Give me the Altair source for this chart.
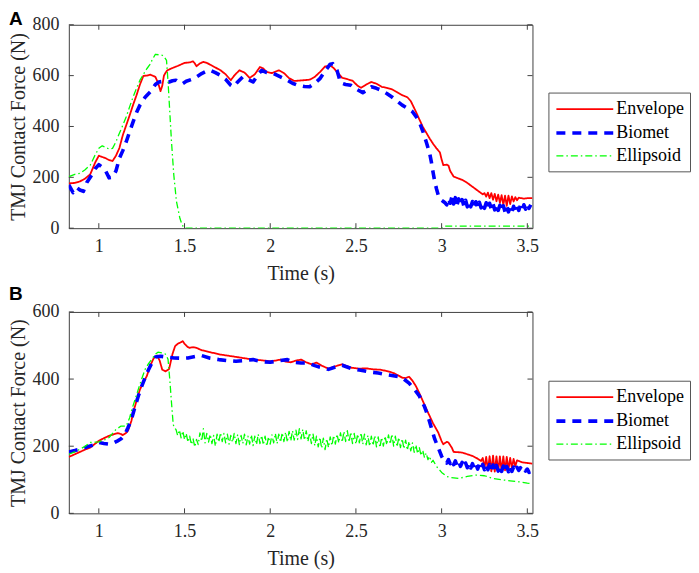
import altair as alt
import pandas as pd

SERIES = ["Envelope", "Biomet", "Ellipsoid"]
COLORS = ["#ff0000", "#0000ff", "#00ff00"]
X_TICKS = [1, 1.5, 2, 2.5, 3, 3.5]
YA_TICKS = [0, 200, 400, 600, 800]
YB_TICKS = [0, 200, 400, 600]

# ---------------- Panel A ----------------
a_env_t = [0.825, 0.86, 0.89, 0.92, 0.95, 0.98, 1.00, 1.02, 1.04, 1.06, 1.08, 1.10, 1.12, 1.14, 1.16, 1.18,
           1.20, 1.22, 1.24, 1.26, 1.28, 1.30, 1.32, 1.33, 1.34, 1.35, 1.36, 1.37, 1.38, 1.39, 1.40, 1.43,
           1.46, 1.50, 1.53, 1.55, 1.56, 1.57, 1.59, 1.61, 1.63, 1.65, 1.68, 1.71, 1.74, 1.77, 1.79, 1.82,
           1.85, 1.88, 1.91, 1.94, 1.96, 1.98, 2.01, 2.05, 2.08, 2.11, 2.14, 2.18, 2.23, 2.26, 2.29, 2.32,
           2.35, 2.37, 2.39, 2.42, 2.45, 2.48, 2.51, 2.53, 2.56, 2.59, 2.62, 2.65, 2.68, 2.71, 2.74, 2.77,
           2.80, 2.82, 2.85, 2.87, 2.89, 2.91, 2.93, 2.95, 2.97, 2.99, 3.00, 3.01, 3.03, 3.04, 3.05, 3.07,
           3.10, 3.12, 3.15, 3.18, 3.21, 3.24, 3.25, 3.26, 3.27, 3.28, 3.29, 3.30, 3.31, 3.32, 3.33, 3.34,
           3.35, 3.36, 3.37, 3.38, 3.39, 3.40, 3.41, 3.42, 3.43, 3.44, 3.45, 3.48, 3.50, 3.53]
a_env_v = [176, 178, 184, 195, 212, 260, 285, 280, 275, 268, 264, 285, 315, 366, 405, 444,
           485, 523, 565, 599, 600, 604, 598, 595, 580, 562, 539, 560, 600, 612, 621, 630,
           638, 650, 652, 656, 648, 637, 648, 654, 650, 643, 632, 621, 605, 582, 600, 621,
           612, 591, 605, 634, 628, 614, 610, 621, 610, 590, 579, 581, 584, 595, 614, 636,
           640, 630, 614, 591, 586, 580, 560, 552, 565, 575, 568, 556, 552, 546, 535, 523,
           515, 500, 458, 428, 399, 376, 353, 332, 314, 298, 270, 248, 250, 246, 225, 203,
           195, 190, 178, 163, 148, 133, 138, 124, 140, 118, 138, 112, 135, 106, 132, 100,
           130, 92, 128, 88, 128, 95, 125, 105, 122, 110, 120, 116, 118, 118]

a_bio_t = [0.825, 0.85, 0.87, 0.89, 0.91, 0.93, 0.95, 0.98, 1.00, 1.02, 1.04, 1.06, 1.08, 1.10, 1.12, 1.14,
           1.16, 1.18, 1.20, 1.22, 1.24, 1.27, 1.30, 1.33, 1.35, 1.38, 1.41, 1.43, 1.45, 1.47, 1.49, 1.51,
           1.54, 1.57, 1.60, 1.63, 1.65, 1.68, 1.71, 1.74, 1.77, 1.785, 1.81, 1.84, 1.87, 1.90, 1.93, 1.95,
           1.98, 2.02, 2.06, 2.10, 2.13, 2.16, 2.20, 2.23, 2.26, 2.29, 2.32, 2.35, 2.365, 2.39, 2.41, 2.44,
           2.47, 2.50, 2.54, 2.57, 2.59, 2.62, 2.65, 2.68, 2.71, 2.74, 2.77, 2.80, 2.83, 2.85, 2.87, 2.89,
           2.91, 2.93, 2.94, 2.95, 2.96, 2.97, 2.98, 2.99, 3.01,
           3.02, 3.03, 3.04, 3.05, 3.06, 3.07, 3.08, 3.09, 3.10, 3.11, 3.12, 3.13, 3.14, 3.15, 3.16, 3.17,
           3.18, 3.19, 3.20, 3.21, 3.22, 3.23, 3.24, 3.25, 3.26, 3.27, 3.28, 3.29, 3.30, 3.31, 3.32, 3.33,
           3.34, 3.35, 3.36, 3.37, 3.38, 3.39, 3.40, 3.41, 3.42, 3.43, 3.44, 3.45, 3.46, 3.47, 3.48, 3.49,
           3.50, 3.51, 3.52]
a_bio_v = [170, 140, 160, 150, 145, 180, 200, 235, 250, 240, 225, 198, 200, 225, 275, 305,
           340, 380, 418, 455, 484, 515, 536, 565, 575, 578, 575, 580, 582, 572, 569, 578,
           585, 595, 608, 618, 621, 612, 601, 585, 562, 556, 575, 595, 585, 575, 605, 621,
           612, 608, 595, 582, 570, 562, 557, 556, 570, 588, 618, 645, 647, 620, 572, 565,
           562, 548, 533, 545, 556, 550, 542, 530, 516, 500, 484, 472, 458, 440, 418, 382,
           340, 295, 261, 220, 183, 155, 131, 115, 105,
           100, 92, 118, 98, 124, 95, 120, 92, 115, 88, 112, 86, 110, 84, 106, 84,
           105, 82, 104, 80, 102, 80, 100, 78, 100, 76, 98, 74, 95, 72, 92, 70,
           90, 66, 88, 64, 86, 64, 85, 66, 86, 68, 88, 70, 90, 72, 92, 75,
           95, 78, 92]

a_ell_t = [0.825, 0.86, 0.89, 0.92, 0.95, 0.98, 1.00, 1.02, 1.04, 1.06, 1.08, 1.10, 1.12, 1.14, 1.16, 1.18,
           1.20, 1.22, 1.24, 1.26, 1.28, 1.30, 1.31, 1.33, 1.35, 1.37, 1.385, 1.395, 1.404, 1.414, 1.424,
           1.4375, 1.453, 1.473, 1.485, 1.492, 1.502, 3.00, 3.02, 3.53]
a_ell_v = [203, 212, 216, 230, 248, 290, 314, 324, 318, 311, 314, 340, 373, 405, 438, 478,
           516, 550, 582, 605, 627, 645, 660, 684, 682, 680, 670, 660, 575, 458, 340,
           209, 105, 39, 15, 7, 0, 0, 8, 8]

# ---------------- Panel B ----------------
b_env_t = [0.825, 0.86, 0.89, 0.92, 0.95, 0.98, 1.00, 1.03, 1.06, 1.09, 1.11, 1.13, 1.14, 1.16, 1.17, 1.19,
           1.20, 1.22, 1.24, 1.26, 1.28, 1.30, 1.32, 1.34, 1.355, 1.37, 1.39, 1.41, 1.43, 1.445, 1.46, 1.48,
           1.49, 1.50, 1.52, 1.53, 1.55, 1.57, 1.60, 1.65, 1.71, 1.75, 1.80, 1.85, 1.90, 1.95, 2.00, 2.03,
           2.06, 2.09, 2.12, 2.15, 2.18, 2.21, 2.24, 2.27, 2.30, 2.34, 2.38, 2.42, 2.47, 2.52, 2.56, 2.60,
           2.64, 2.68, 2.72, 2.75, 2.77, 2.79, 2.81, 2.83, 2.85, 2.87, 2.89, 2.91, 2.93, 2.95, 2.98, 3.00,
           3.01, 3.03, 3.04, 3.06, 3.07, 3.10, 3.12, 3.15, 3.18, 3.21, 3.23,
           3.24, 3.25, 3.26, 3.27, 3.28, 3.29, 3.30, 3.31, 3.32, 3.33, 3.34, 3.35, 3.36, 3.37, 3.38, 3.39,
           3.40, 3.41, 3.42, 3.43, 3.44, 3.47, 3.50, 3.53]
b_env_v = [168, 176, 183, 190, 196, 208, 216, 224, 231, 236, 239, 236, 233, 240, 246, 275,
           300, 335, 369, 390, 409, 440, 462, 470, 455, 428, 423, 430, 475, 498, 505, 510,
           513, 505, 495, 493, 495, 493, 486, 480, 473, 470, 466, 462, 458, 456, 453, 455,
           458, 452, 450, 455, 458, 450, 444, 449, 440, 431, 438, 444, 434, 431, 432, 429,
           428, 424, 418, 410, 404, 403, 407, 395, 379, 358, 335, 312, 290, 268, 241, 215,
           206, 213, 211, 195, 183, 182, 181, 176, 171, 163, 156,
           165, 135, 168, 128, 170, 125, 172, 124, 170, 124, 170, 125, 170, 128, 168, 130,
           165, 135, 162, 140, 158, 152, 150, 148]

b_bio_t = [0.825, 0.86, 0.89, 0.92, 0.95, 0.98, 1.00, 1.03, 1.06, 1.08, 1.11, 1.13, 1.15, 1.17, 1.19, 1.21,
           1.23, 1.25, 1.27, 1.29, 1.31, 1.33, 1.36, 1.40, 1.44, 1.48, 1.52, 1.57, 1.60, 1.65, 1.70, 1.75,
           1.80, 1.85, 1.90, 1.95, 2.00, 2.05, 2.10, 2.14, 2.18, 2.22, 2.26, 2.30, 2.34, 2.38, 2.42, 2.47,
           2.52, 2.57, 2.63, 2.69, 2.75, 2.78, 2.81, 2.84, 2.87, 2.90, 2.92, 2.94, 2.96, 2.98, 3.00, 3.01,
           3.02, 3.03, 3.04, 3.05, 3.06, 3.07, 3.08, 3.09, 3.10, 3.11, 3.12, 3.13, 3.14, 3.15, 3.16, 3.17,
           3.18, 3.19, 3.20, 3.21, 3.22, 3.23, 3.24, 3.25, 3.26, 3.27, 3.28, 3.29, 3.30, 3.31, 3.32, 3.33,
           3.34, 3.35, 3.36, 3.37, 3.38, 3.39, 3.40, 3.41, 3.42, 3.43, 3.44, 3.45, 3.46, 3.47, 3.48, 3.49,
           3.50, 3.51, 3.52]
b_bio_v = [183, 187, 191, 196, 201, 205, 211, 208, 206, 208, 216, 222, 233, 255, 280, 315,
           349, 378, 404, 428, 449, 466, 468, 465, 463, 462, 463, 468, 470, 462, 458, 455,
           453, 455, 458, 452, 450, 455, 458, 450, 448, 448, 440, 434, 429, 436, 441, 432,
           427, 422, 418, 412, 407, 400, 388, 370, 350, 318, 290, 255, 221, 196, 170, 161,
           158, 150, 160, 148, 158, 145, 156, 142, 154, 140, 152, 138, 150, 136, 150, 135,
           148, 134, 147, 132, 146, 132, 146, 130, 145, 130, 145, 128, 144, 127, 143, 126,
           142, 125, 141, 124, 140, 124, 140, 125, 138, 126, 137, 128, 136, 128, 135, 126,
           132, 122, 125]

b_ell_head_t = [0.825, 0.86, 0.89, 0.92, 0.95, 0.98, 1.00, 1.03, 1.06, 1.08, 1.10, 1.13, 1.16, 1.18, 1.19,
                1.21, 1.23, 1.25, 1.27, 1.29, 1.31, 1.33, 1.345, 1.37, 1.385, 1.395, 1.404, 1.414, 1.424,
                1.434, 1.44]
b_ell_head_v = [176, 183, 191, 200, 211, 212, 213, 218, 226, 238, 250, 260, 260, 285, 305,
                337, 369, 400, 429, 446, 460, 474, 480, 478, 476, 470, 458, 399, 330,
                265, 255]
# noisy segment, read every 0.01 s from 1.45 s to 2.95 s
b_ell_noise_start = 1.45
b_ell_noise_v = [250, 232, 248, 225, 245, 220, 238, 212, 230, 205, 222, 198, 220, 205, 240, 215,
                 252, 210, 238, 212, 235, 208, 232, 200, 236, 212, 240, 214, 238, 210, 236, 206,
                 232, 212, 238, 208, 234, 205, 232, 208, 236, 204, 230, 206, 234, 202, 230, 205,
                 236, 208, 232, 204, 230, 200, 228, 206, 234, 210, 238, 208, 236, 212, 240, 214,
                 242, 212, 244, 216, 246, 218, 248, 220, 252, 222, 250, 218, 246, 214, 240, 208,
                 236, 202, 230, 198, 226, 194, 224, 190, 222, 196, 228, 202, 232, 206, 236, 210,
                 240, 212, 244, 214, 246, 212, 242, 208, 238, 206, 236, 210, 240, 206, 236, 204,
                 232, 200, 230, 202, 232, 198, 228, 196, 226, 200, 230, 204, 234, 206, 236, 200,
                 230, 198, 226, 196, 222, 192, 218, 188, 214, 186, 210, 182, 204, 178, 196, 172,
                 188, 166, 180, 160, 170, 152, 158]
b_ell_tail_t = [2.97, 3.00, 3.03, 3.05, 3.10, 3.15, 3.20, 3.25, 3.30, 3.35, 3.40, 3.45, 3.50, 3.53]
b_ell_tail_v = [140, 122, 110, 107, 104, 110, 114, 112, 104, 100, 97, 94, 90, 88]

b_ell_t = (b_ell_head_t
           + [round(b_ell_noise_start + 0.01 * i, 2) for i in range(len(b_ell_noise_v))]
           + b_ell_tail_t)
b_ell_v = b_ell_head_v + b_ell_noise_v + b_ell_tail_v


def table(parts):
    rows = []
    for name, ts, vs in parts:
        for i, (t, v) in enumerate(zip(ts, vs)):
            rows.append({"t": t, "v": v, "series": name, "idx": i})
    return pd.DataFrame(rows)


df_a = table([("Envelope", a_env_t, a_env_v), ("Biomet", a_bio_t, a_bio_v), ("Ellipsoid", a_ell_t, a_ell_v)])
df_b = table([("Envelope", b_env_t, b_env_v), ("Biomet", b_bio_t, b_bio_v), ("Ellipsoid", b_ell_t, b_ell_v)])

W = 465
AXIS_COLOR = "#404040"
TEXT_COLOR = "#262626"
SERIF = "Liberation Serif"


def panel(df, ymax, yticks, H, letter, letter_y, legend_y):
    legend = alt.Legend(
        title=None, orient="none", legendX=481, legendY=legend_y, direction="vertical",
        strokeColor="#555555", fillColor="white", padding=6,
        symbolType="M-3,0H3", symbolSize=361, symbolOffset=19, labelOffset=20,
        rowPadding=3, labelFont=SERIF, labelFontSize=18, labelColor="black",
    )
    x_enc = alt.X("t:Q", title="Time (s)",
                  scale=alt.Scale(domain=[0.825, 3.53], nice=False, zero=False),
                  axis=alt.Axis(values=X_TICKS, format="~g", ticks=False, domain=False, grid=False,
                                labelPadding=9, titlePadding=8, labelFlush=False,
                                labelFont=SERIF, labelFontSize=18, labelColor=TEXT_COLOR,
                                titleFont=SERIF, titleFontSize=20, titleFontWeight="normal",
                                titleColor=TEXT_COLOR))
    y_enc = alt.Y("v:Q", title="TMJ Contact Force (N)",
                  scale=alt.Scale(domain=[0, ymax], nice=False),
                  axis=alt.Axis(values=yticks, ticks=False, domain=False, grid=False,
                                labelPadding=10, titlePadding=3,
                                labelFont=SERIF, labelFontSize=18, labelColor=TEXT_COLOR,
                                titleFont=SERIF, titleFontSize=20, titleFontWeight="normal",
                                titleColor=TEXT_COLOR))
    lines = alt.Chart(df).mark_line(clip=True, strokeCap="butt", strokeJoin="round").encode(
        x=x_enc, y=y_enc, order="idx:Q",
        color=alt.Color("series:N", scale=alt.Scale(domain=SERIES, range=COLORS), legend=legend),
        strokeDash=alt.StrokeDash("series:N",
                                  scale=alt.Scale(type="ordinal", domain=SERIES,
                                                  range=[[1, 0], [9, 7], [7, 3, 1.5, 3]]),
                                  legend=legend),
        strokeWidth=alt.StrokeWidth("series:N",
                                    scale=alt.Scale(type="ordinal", domain=SERIES, range=[1.8, 3.6, 1.3]),
                                    legend=legend),
    )
    xt = pd.DataFrame({"t": X_TICKS})
    yt = pd.DataFrame({"v": yticks})
    tick_x_bot = alt.Chart(xt).mark_rule(color=AXIS_COLOR, strokeWidth=1).encode(
        x=x_enc, y=alt.value(H), y2=alt.value(H - 5))
    tick_x_top = alt.Chart(xt).mark_rule(color=AXIS_COLOR, strokeWidth=1).encode(
        x=x_enc, y=alt.value(0), y2=alt.value(5))
    tick_y_left = alt.Chart(yt).mark_rule(color=AXIS_COLOR, strokeWidth=1).encode(
        y=y_enc, x=alt.value(0), x2=alt.value(5))
    tick_y_right = alt.Chart(yt).mark_rule(color=AXIS_COLOR, strokeWidth=1).encode(
        y=y_enc, x=alt.value(W), x2=alt.value(W - 5))
    lab = alt.Chart(pd.DataFrame({"s": [letter]})).mark_text(
        font="Liberation Sans", fontWeight="bold", fontSize=19, align="left", baseline="alphabetic",
        color="black").encode(text="s:N", x=alt.value(-60), y=alt.value(letter_y))
    return alt.layer(lines, tick_x_bot, tick_x_top, tick_y_left, tick_y_right, lab).properties(
        width=W, height=H)


pa = panel(df_a, 800, YA_TICKS, 204, "A", 0, 68)
pb = panel(df_b, 600, YB_TICKS, 202, "B", -12, 69)

chart = alt.vconcat(pa, pb, spacing=0).resolve_scale(
    color="independent", strokeDash="independent", strokeWidth="independent"
).resolve_legend(
    color="independent", strokeDash="independent", strokeWidth="independent"
).configure(
    padding=0, background="white"
).configure_view(
    stroke=AXIS_COLOR, strokeWidth=1
).configure_axis(
    labelFont=SERIF, labelFontSize=18, labelColor=TEXT_COLOR,
    titleFont=SERIF, titleFontSize=20, titleFontWeight="normal", titleColor=TEXT_COLOR,
)

chart.save("out.html", embed_options={"renderer": "svg", "actions": False})
